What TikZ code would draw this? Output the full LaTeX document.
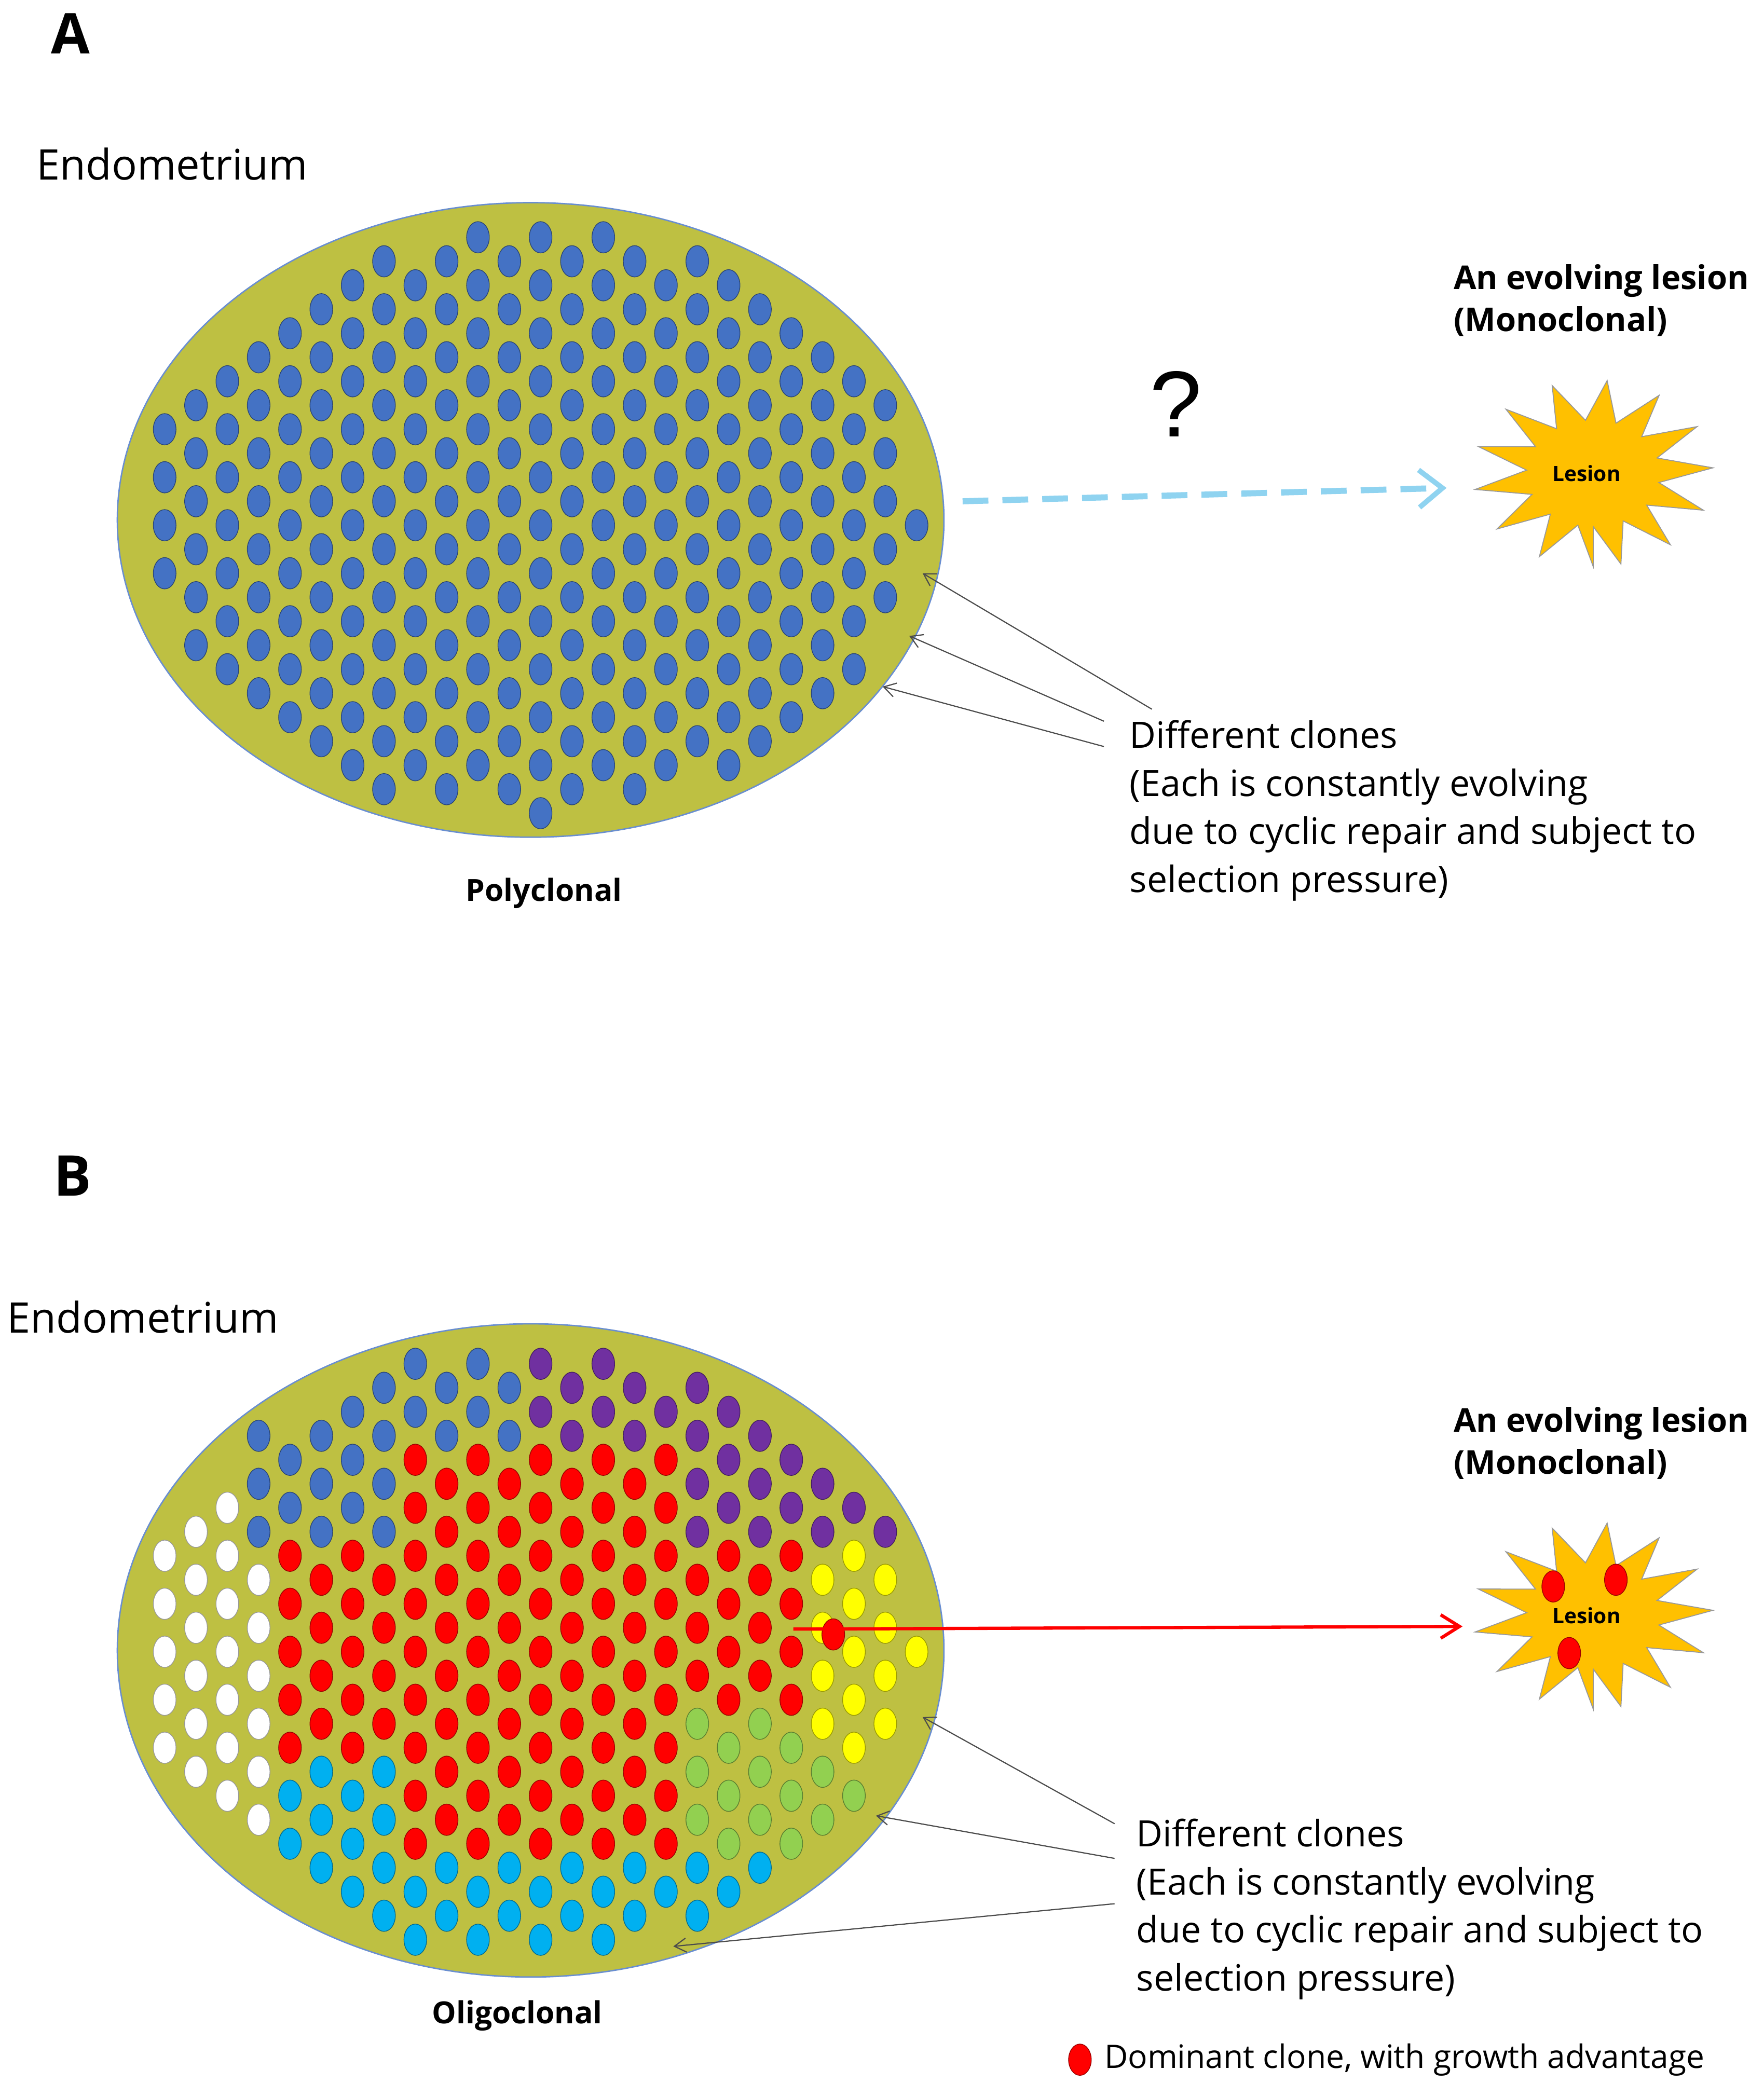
\documentclass[tikz,border=0pt]{standalone}
\usepackage{fontspec}
\setmainfont{Open Sans}
\newfontfamily\qfont{Liberation Sans}
\usetikzlibrary{arrows.meta}
\definecolor{olive}{RGB}{190,192,66}
\definecolor{cblue}{RGB}{68,114,196}
\definecolor{cpurple}{RGB}{112,48,160}
\definecolor{ccyan}{RGB}{0,176,240}
\definecolor{cyel}{RGB}{255,255,0}
\definecolor{cgreen}{RGB}{146,208,80}
\definecolor{cred}{RGB}{255,0,0}
\definecolor{lesion}{RGB}{255,192,0}
\definecolor{dashblue}{RGB}{143,211,240}
\tikzset{
 tissue/.style={fill=olive,draw=cblue!80,line width=0.6pt},
 pointer/.style={draw=black!70,line width=0.5pt,-{Straight Barb[length=5pt,width=6pt]}},
 lbl/.style={inner sep=0,anchor=west,align=left},
}
\newcommand{\dotat}[2]{\fill[#1,draw=#1!60!black,line width=0.3pt] (\xx,\yy) ellipse (0.17cm and 0.235cm);}
\newcommand{\mystar}[1]{%
 \begin{scope}[shift={#1}]
 \fill[lesion,draw=black!40,line width=0.4pt] (90:95 and 70)
 \foreach \k in {1,...,27}{ -- ({90+\k*13.333}:{ifthenelse(mod(\k,2)==1,50,90)} and {ifthenelse(mod(\k,2)==1,40,70)}) } -- cycle;
 \end{scope}}
\begin{document}
\begin{tikzpicture}[x=0.02cm,y=-0.02cm]
\useasboundingbox (0,0) rectangle (1323,1573);
% ---------- A ----------
\node[font=\bfseries\fontsize{24}{24}\selectfont,anchor=west,inner sep=0] (A) at (38,25) {A};
\node[font=\fontsize{18}{18}\selectfont,lbl] (endoA) at (27,123) {Endometrium};
\draw[tissue] (398,390) ellipse (310 and 238);
\node (ellA) at (398,390) {};
\foreach \i in {0,...,26}{\foreach \j in {0,...,14}{
 \pgfmathsetmacro\xx{100+23.5*\i}
 \pgfmathsetmacro\yy{160+36*\j+18*mod(\i,2)}
 \pgfmathtruncatemacro\ins{((\xx-398)/290)^2+((\yy-390)/222)^2<1}
 \ifnum\ins=1 \dotat{cblue}{}\fi}}
\node[font=\bfseries\fontsize{13}{13}\selectfont] (polyl) at (408,670) {Polyclonal};
\node[font=\bfseries\fontsize{14}{18}\selectfont,align=left,anchor=north west,inner sep=0] (evoA) at (1090,198) {An evolving lesion\\(Monoclonal)};
\node[font=\qfont\fontsize{40}{40}\selectfont] (q) at (882,303) {?};
\mystar{(1195,355)}
\node[font=\bfseries\fontsize{9}{9}\selectfont] (lesA) at (1190,355) {Lesion};
\coordinate (dA1) at (722,376);
\coordinate (dA2) at (1085,366);
\draw[dashblue,line width=2.6pt,dash pattern=on 11pt off 6pt,-{Straight Barb[length=10pt,width=16pt,line width=2.2pt]}] (dA1) -- (dA2);
\node[font=\fontsize{15.5}{20.5}\selectfont,lbl,anchor=north west] (txtA) at (847,540) {Different clones\\(Each is constantly evolving\\due to cyclic repair and subject to\\selection pressure)};
\coordinate (pA1) at (692,430); \coordinate (pA2) at (682,477); \coordinate (pA3) at (662,515);
\coordinate (sA1) at (864,532); \coordinate (sA2) at (828,541); \coordinate (sA3) at (828,560);
\draw[pointer] (sA1) -- (pA1); \draw[pointer] (sA2) -- (pA2); \draw[pointer] (sA3) -- (pA3);
% ---------- B ----------
\node[font=\bfseries\fontsize{24}{24}\selectfont,anchor=west,inner sep=0] (B) at (40,882) {B};
\node[font=\fontsize{18}{18}\selectfont,lbl] (endoB) at (5,988) {Endometrium};
\draw[tissue] (398,1238) ellipse (310 and 245);
\foreach \i in {0,...,26}{\foreach \j in {0,...,14}{
 \pgfmathsetmacro\xx{100+23.5*\i}
 \pgfmathsetmacro\yy{1005+36*\j+18*mod(\i,2)}
 \pgfmathtruncatemacro\ins{((\xx-398)/290)^2+((\yy-1238)/228)^2<1}
 \ifnum\ins=1
 \pgfmathtruncatemacro\c{(\xx<190 && \yy>1110) ? 2 : ((\yy<1090) ? (\xx>405 ? 1 : 0) : ((\yy<1160 && \xx>520) ? 1 : ((\yy<1160 && \xx<310) ? 0 : (\xx<195 ? 2 : (((\yy>1325 && \xx<300) || \yy>1395) ? 3 : ((\xx>600 && \yy<1320 && \yy>1150) ? 4 : ((\xx>505 && \yy>1290) ? 5 : 6)))))))}
 \ifcase\c \dotat{cblue}{}\or \dotat{cpurple}{}\or \fill[white,draw=black!40,line width=0.3pt] (\xx,\yy) ellipse (0.17cm and 0.235cm);\or \dotat{ccyan}{}\or \dotat{cyel}{}\or \dotat{cgreen}{}\or \dotat{cred}{}\fi
 \fi}}
\node[font=\bfseries\fontsize{13}{13}\selectfont] (oligo) at (388,1512) {Oligoclonal};
\node[font=\bfseries\fontsize{14}{18}\selectfont,align=left,anchor=north west,inner sep=0] (evoB) at (1090,1055) {An evolving lesion\\(Monoclonal)};
\mystar{(1195,1212)}
\node[font=\bfseries\fontsize{9}{9}\selectfont] (lesB) at (1190,1212) {Lesion};
\foreach \p in {(1165,1190),(1212,1185),(1177,1240)}{\fill[cred,draw=cred!60!black,line width=0.3pt] \p ellipse (0.17cm and 0.235cm);}
\fill[cred,draw=cred!60!black,line width=0.3pt] (625,1226) ellipse (0.17cm and 0.235cm);
\coordinate (rA1) at (595,1222); \coordinate (rA2) at (1097,1220);
\draw[cred,line width=1.4pt,-{Straight Barb[length=8pt,width=10pt]}] (rA1) -- (rA2);
\node[font=\fontsize{15.5}{20.5}\selectfont,lbl,anchor=north west] (txtB) at (852,1364) {Different clones\\(Each is constantly evolving\\due to cyclic repair and subject to\\selection pressure)};
\coordinate (pB1) at (692,1288); \coordinate (pB2) at (657,1362); \coordinate (pB3) at (505,1460);
\coordinate (sB1) at (836,1368); \coordinate (sB2) at (836,1394); \coordinate (sB3) at (836,1428);
\draw[pointer] (sB1) -- (pB1); \draw[pointer] (sB2) -- (pB2); \draw[pointer] (sB3) -- (pB3);
\fill[cred,draw=cred!60!black,line width=0.3pt] (810,1545) ellipse (0.17cm and 0.235cm);
\node[font=\fontsize{13.8}{13.8}\selectfont,lbl] (leg) at (828,1545) {Dominant clone, with growth advantage};
\end{tikzpicture}
\end{document}
